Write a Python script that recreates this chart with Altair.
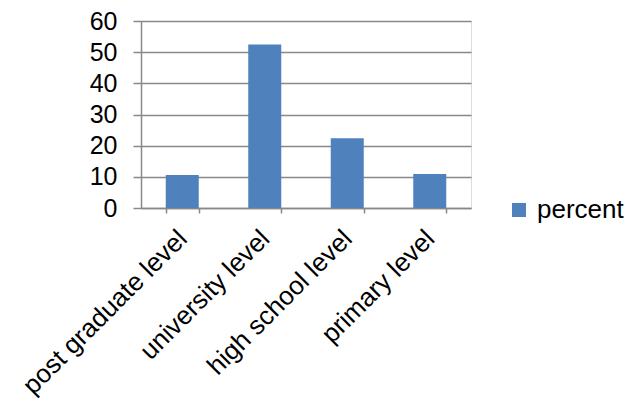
import altair as alt
import pandas as pd

# Education level shares
levels = ["post graduate level", "university level", "high school level", "primary level"]
percent = [10.6, 52.5, 22.4, 10.9]

df = pd.DataFrame({"level": levels, "percent": percent, "series": ["percent"] * len(levels)})

font = "Liberation Sans"
grid_color = "#888888"

chart = (
    alt.Chart(df)
    .mark_bar(color="#4F81BD")
    .encode(
        x=alt.X(
            "level:N",
            sort=levels,
            title=None,
            scale=alt.Scale(paddingInner=0.6, paddingOuter=0.3),
            axis=alt.Axis(
                labelAngle=315,
                labelFontSize=26,
                labelFont=font,
                labelColor="black",
                labelPadding=12,
                labelOffset=-9,
                labelLimit=400,
                labelOverlap=False,
                tickBand="extent",
                tickSize=5,
                tickColor=grid_color,
                tickWidth=1.5,
                domainColor=grid_color,
                domainWidth=1.5,
                grid=False,
            ),
        ),
        y=alt.Y(
            "percent:Q",
            title=None,
            scale=alt.Scale(domain=[0, 60], nice=False),
            axis=alt.Axis(
                values=[0, 10, 20, 30, 40, 50, 60],
                labelFontSize=25,
                labelFont=font,
                labelColor="black",
                labelPadding=16,
                tickSize=8,
                tickColor=grid_color,
                tickWidth=1.5,
                domainColor=grid_color,
                domainWidth=1.5,
                gridColor=grid_color,
                gridWidth=1.5,
            ),
        ),
        fill=alt.Fill(
            "series:N",
            scale=alt.Scale(range=["#4F81BD"]),
            legend=alt.Legend(
                title=None,
                orient="none",
                legendX=365,
                legendY=176,
                symbolType="square",
                symbolSize=196,
                symbolStrokeWidth=0,
                labelFontSize=26,
                labelFont=font,
                labelColor="black",
                labelOffset=5,
            ),
        ),
    )
    .properties(
        width=330,
        height=187,
        autosize=alt.AutoSizeParams(type="none"),
        padding={"left": 141, "top": 21, "right": 164, "bottom": 199},
    )
    .configure_view(stroke=None)
    .configure(background="white")
)

chart.save("out.html", embed_options={"renderer": "svg", "actions": False})
